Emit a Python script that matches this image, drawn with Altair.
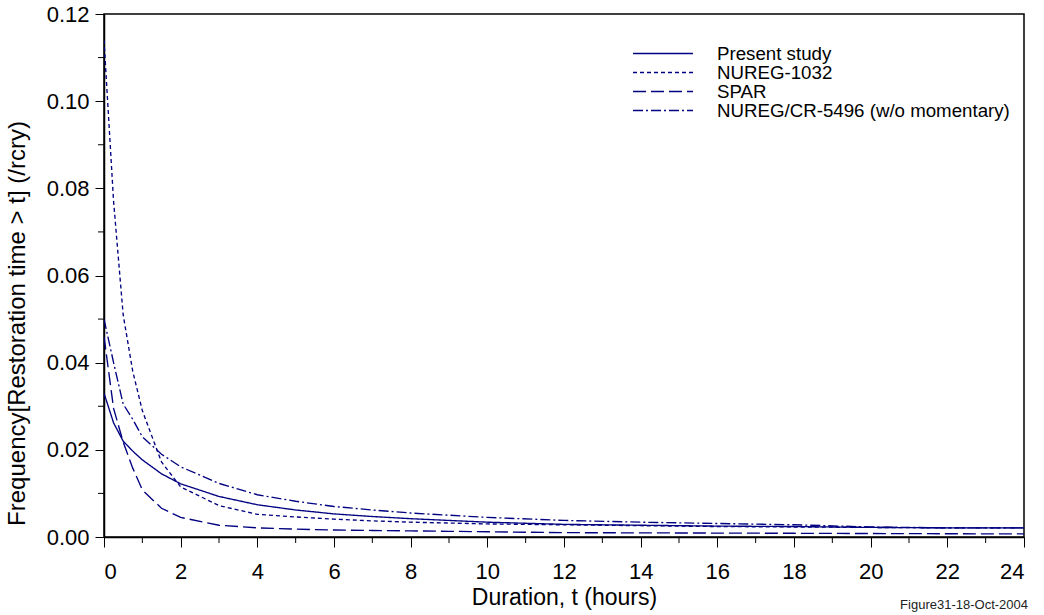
import altair as alt
import pandas as pd

times = [0, 0.25, 0.5, 0.75, 1, 1.5, 2, 3, 4, 5, 6, 7, 8, 9, 10, 12, 14, 16, 18, 20, 22, 24]
present = [0.033, 0.0262, 0.0220, 0.0197, 0.0177, 0.0145, 0.0122, 0.0093, 0.0074, 0.0062, 0.0053,
           0.0047, 0.0042, 0.0038, 0.0034, 0.0029, 0.0027, 0.0025, 0.0024, 0.0022, 0.0021, 0.0021]
nureg1032 = [0.114, 0.077, 0.051, 0.038, 0.029, 0.0172, 0.0115, 0.0072, 0.0052, 0.0046, 0.0041,
             0.0037, 0.0034, 0.0032, 0.0030, 0.0028, 0.0026, 0.0024, 0.0023, 0.0022, 0.0021, 0.0021]
spar = [0.046, 0.0295, 0.0218, 0.0158, 0.0108, 0.0066, 0.0045, 0.0027, 0.0021, 0.0018, 0.0016,
        0.0015, 0.0014, 0.0013, 0.0012, 0.0010, 0.00095, 0.0009, 0.00085, 0.0008, 0.00075, 0.0007]
cr5496 = [0.050, 0.040, 0.0305, 0.027, 0.0230, 0.0190, 0.0161, 0.0123, 0.0097, 0.0082, 0.0070,
          0.0062, 0.0055, 0.0050, 0.0045, 0.0038, 0.0034, 0.0031, 0.0028, 0.0023, 0.0021, 0.0021]

series_names = ["Present study", "NUREG-1032", "SPAR", "NUREG/CR-5496 (w/o momentary)"]
series_values = [present, nureg1032, spar, cr5496]
dashes = [[1, 0], [4, 3], [13, 5], [10, 3, 2, 3]]

x_major = [0, 2, 4, 6, 8, 10, 12, 14, 16, 18, 20, 22, 24]
x_minor = [1, 3, 5, 7, 9, 11, 13, 15, 17, 19, 21, 23]
y_major = [0.0, 0.02, 0.04, 0.06, 0.08, 0.10, 0.12]
y_minor = [0.01, 0.03, 0.05, 0.07, 0.09, 0.11]

rows = []
for name, vals in zip(series_names, series_values):
    for t, v in zip(times, vals):
        rows.append({"t": t, "f": v, "series": name})
df = pd.DataFrame(rows)

W, H = 920, 523
FONT = "Liberation Sans"
NAVY = "#000080"
TICKFS = 22

xscale = alt.Scale(domain=[0, 24], nice=False, zero=False)
yscale = alt.Scale(domain=[0, 0.12], nice=False)

lines = alt.Chart(df).mark_line(strokeWidth=1.35, clip=True).encode(
    x=alt.X("t:Q", scale=xscale,
            axis=alt.Axis(values=x_major, format="d", title="Duration, t (hours)",
                          tickSize=10, labelPadding=14, labelFontSize=TICKFS, titleFontSize=23,
                          titleFontWeight="normal", titleY=67, titleBaseline="alphabetic",
                          grid=False, domainColor="black", tickColor="black",
                          labelColor="black", titleColor="black")),
    y=alt.Y("f:Q", scale=yscale,
            axis=alt.Axis(values=y_major, format=".2f",
                          title="Frequency[Restoration time > t] (/rcry)",
                          tickSize=9, labelPadding=6, labelFontSize=TICKFS, titleFontSize=24,
                          titleFontWeight="normal", titleX=-80, titleY=309,
                          titleBaseline="alphabetic",
                          grid=False, domainColor="black", tickColor="black",
                          labelColor="black", titleColor="black")),
    color=alt.value(NAVY),
    strokeDash=alt.StrokeDash("series:N", scale=alt.Scale(domain=series_names, range=dashes),
                              legend=None),
)

layers = [lines]

xminor_df = pd.DataFrame({"t": x_minor})
layers.append(alt.Chart(xminor_df).mark_rule(color="black", strokeWidth=1).encode(
    x=alt.X("t:Q", scale=xscale), y=alt.value(H), y2=alt.value(H + 6)))

yminor_df = pd.DataFrame({"f": y_minor})
layers.append(alt.Chart(yminor_df).mark_rule(color="black", strokeWidth=1).encode(
    y=alt.Y("f:Q", scale=yscale), x=alt.value(-6), x2=alt.value(0)))

# manual legend (inside top-right)
LEG_X0, LEG_X1, LEG_TX, LEG_Y0, LEG_DY = 529, 589, 613, 39.5, 19
for i, (name, dash) in enumerate(zip(series_names, dashes)):
    ly = LEG_Y0 + i * LEG_DY
    one = pd.DataFrame({"series": [name]})
    layers.append(alt.Chart(one).mark_rule(color=NAVY, strokeWidth=1.35, strokeDash=dash).encode(
        x=alt.value(LEG_X0), x2=alt.value(LEG_X1), y=alt.value(ly)))
    layers.append(alt.Chart(one).mark_text(fontSize=18.7, font=FONT, align="left",
                                           baseline="middle", color="black").encode(
        text="series:N", x=alt.value(LEG_TX), y=alt.value(ly)))

layers.append(alt.Chart(pd.DataFrame({"txt": ["Figure31-18-Oct-2004"]})).mark_text(
    fontSize=13, font=FONT, align="right", baseline="middle", color="#222222").encode(
    text="txt:N", x=alt.value(W + 4), y=alt.value(H + 68)))

chart = alt.layer(*layers).properties(
    width=W, height=H,
    autosize=alt.AutoSizeParams(type="none"),
    padding={"left": 104, "top": 14, "right": 20, "bottom": 78},
).configure(font=FONT, background="white").configure_view(
    stroke="black", strokeWidth=1.5
).configure_axis(domainWidth=1.5, tickWidth=1)

chart.save("out.html", embed_options={"renderer": "svg", "actions": False})
